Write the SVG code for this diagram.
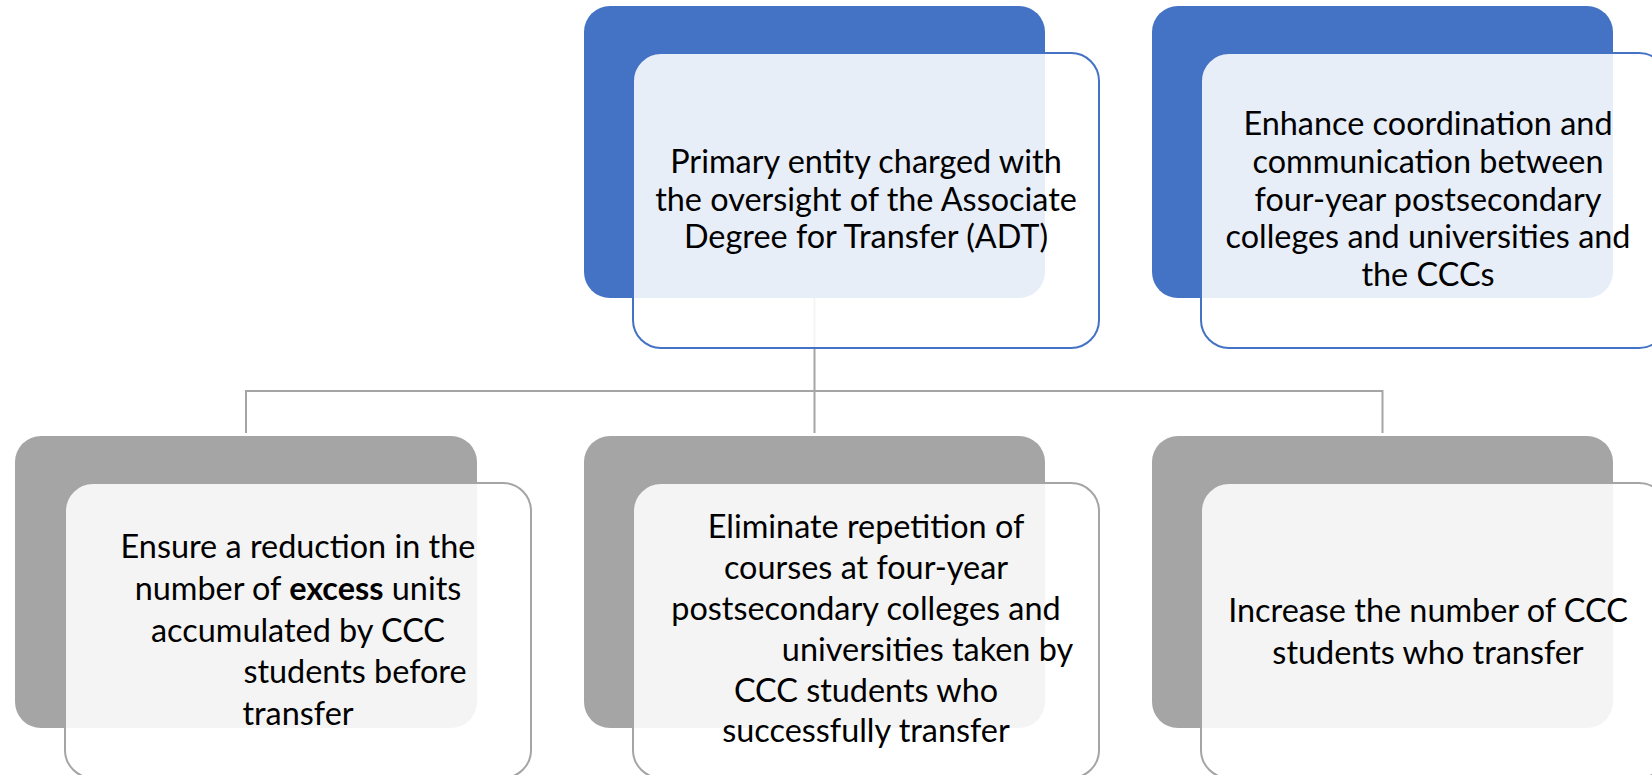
<svg xmlns="http://www.w3.org/2000/svg" width="1652" height="775" viewBox="0 0 1652 775">
<style>
.bb{fill:#4472C4}
.bg{fill:#A5A5A5}
.fb{fill:#FFFFFF;fill-opacity:0.88;stroke:#4472C4;stroke-width:2}
.fg{fill:#FFFFFF;fill-opacity:0.88;stroke:#A5A5A5;stroke-width:2}
.t{font-family:Lato,"Open Sans","Liberation Sans",sans-serif;font-size:32.4px;fill:#000;text-anchor:middle}
.conn{fill:none;stroke:#A5A5A5;stroke-width:2}
</style>
<rect width="1652" height="775" fill="#FFFFFF"/>
<g id="connectors">
<path class="conn" d="M814.5,298 V391 M246,433 V391 H1382.5 V433 M814.5,391 V433"/>
</g>
<g id="node-adt">
<rect class="bb" x="584" y="6" width="461" height="292" rx="26"/>
<rect class="fb" x="633" y="53" width="466" height="295" rx="28"/>
<text class="t"><tspan x="866" y="172.7">Primary entity charged with</tspan><tspan x="866" y="211">the oversight of the Associate</tspan><tspan x="866" y="248.3">Degree for Transfer (ADT)</tspan></text>
</g>
<g id="node-coordination">
<rect class="bb" x="1152" y="6" width="461" height="292" rx="26"/>
<rect class="fb" x="1201" y="53" width="466" height="295" rx="28"/>
<text class="t"><tspan x="1428" y="135">Enhance coordination and</tspan><tspan x="1428" y="172.7">communication between</tspan><tspan x="1428" y="210.5">four-year postsecondary</tspan><tspan x="1428" y="248">colleges and universities and</tspan><tspan x="1428" y="286">the CCCs</tspan></text>
</g>
<g id="node-excess">
<rect class="bg" x="15" y="436" width="462" height="292" rx="26"/>
<rect class="fg" x="65" y="483" width="466" height="295" rx="28"/>
<text class="t"><tspan x="298" y="558.3">Ensure a reduction in the</tspan><tspan x="298" y="600">number of <tspan font-weight="bold">excess</tspan> units</tspan><tspan x="298" y="641.7">accumulated by CCC</tspan><tspan x="355" y="683.3">students before</tspan><tspan x="298" y="725">transfer</tspan></text>
</g>
<g id="node-repetition">
<rect class="bg" x="584" y="436" width="461" height="292" rx="26"/>
<rect class="fg" x="633" y="483" width="466" height="295" rx="28"/>
<text class="t"><tspan x="866" y="538">Eliminate repetition of</tspan><tspan x="866" y="579">courses at four-year</tspan><tspan x="866" y="620">postsecondary colleges and</tspan><tspan x="927.5" y="661">universities taken by</tspan><tspan x="866" y="701.5">CCC students who</tspan><tspan x="866" y="742">successfully transfer</tspan></text>
</g>
<g id="node-increase">
<rect class="bg" x="1152" y="436" width="461" height="292" rx="26"/>
<rect class="fg" x="1201" y="483" width="466" height="295" rx="28"/>
<text class="t"><tspan x="1428" y="621.7">Increase the number of CCC</tspan><tspan x="1428" y="664">students who transfer</tspan></text>
</g>
</svg>
